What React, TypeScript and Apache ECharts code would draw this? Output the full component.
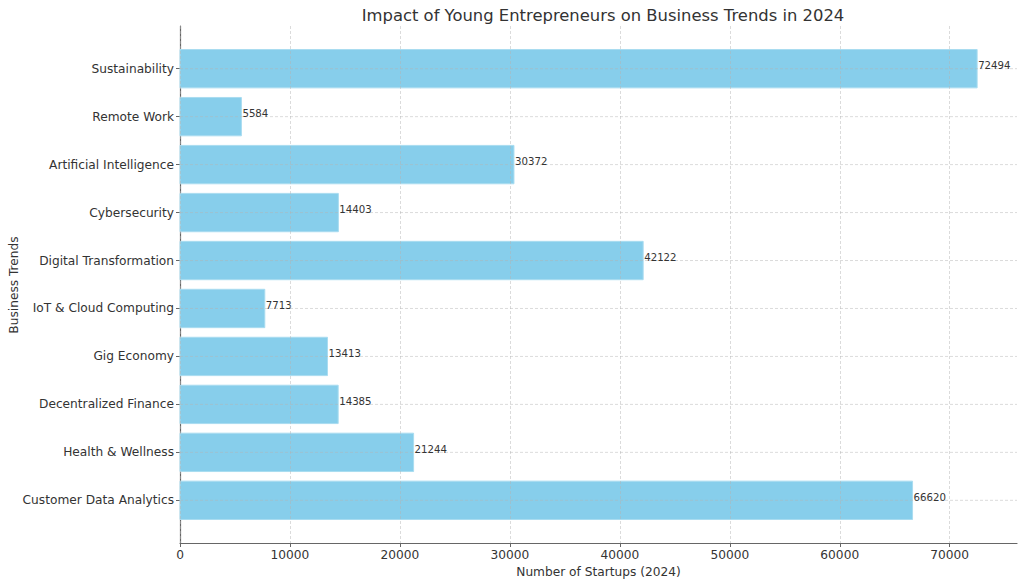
import React, { useEffect, useRef } from "react";
import * as echarts from "echarts";

// bottom to top
const categories = [
  "Customer Data Analytics",
  "Health & Wellness",
  "Decentralized Finance",
  "Gig Economy",
  "IoT & Cloud Computing",
  "Digital Transformation",
  "Cybersecurity",
  "Artificial Intelligence",
  "Remote Work",
  "Sustainability",
];
const startups = [66620, 21244, 14385, 13413, 7713, 42122, 14403, 30372, 5584, 72494];
const xTicks = [0, 10000, 20000, 30000, 40000, 50000, 60000, 70000];

const FONT = "DejaVu Sans";

export default function App() {
  const ref = useRef<HTMLDivElement>(null);
  useEffect(() => {
    if (!ref.current) return;
    const chart = echarts.init(ref.current, undefined, { renderer: "svg" });
    const idxs = categories.map((_, i) => i);
    const data = startups.map((v, i) => [v, i]);
    chart.setOption({
      animation: false,
      backgroundColor: "#ffffff",
      title: {
        text: "Impact of Young Entrepreneurs on Business Trends in 2024",
        left: 598,
        textAlign: "center",
        top: 2,
        textStyle: { fontFamily: FONT, fontSize: 16.4, fontWeight: "normal", color: "#333" },
      },
      graphic: [
        {
          type: "text",
          x: 14,
          y: 285,
          rotation: Math.PI / 2,
          style: {
            text: "Business Trends",
            fontFamily: FONT,
            fontSize: 12.2,
            fill: "#333",
            align: "center",
            verticalAlign: "middle",
          },
        },
      ],
      grid: { left: 180, right: 7, top: 26, bottom: 39, containLabel: false, outerBoundsMode: "none" },
      xAxis: {
        type: "value",
        min: 0,
        max: 76119,
        interval: 10000,
        z: 10,
        name: "Number of Startups (2024)",
        nameLocation: "middle",
        nameGap: 12,
        nameTextStyle: { fontFamily: FONT, fontSize: 12.2, color: "#333" },
        axisLine: { show: true, onZero: false, lineStyle: { color: "#666", width: 1.2 } },
        axisTick: { show: true, length: 4, lineStyle: { color: "#666" }, customValues: xTicks },
        axisLabel: {
          fontFamily: FONT,
          fontSize: 12.2,
          color: "#333",
          margin: 6,
          customValues: xTicks,
          formatter: (v: number) => String(v),
        },
        splitLine: { show: true, lineStyle: { color: "rgba(180,180,180,0.6)", type: [3, 2], width: 0.8 } },
      },
      yAxis: {
        type: "value",
        min: -0.89,
        max: 9.89,
        axisLine: { show: true, onZero: false, lineStyle: { color: "#666", width: 1.2 } },
        axisTick: { show: true, length: 4, lineStyle: { color: "#666" }, customValues: idxs },
        axisLabel: {
          fontFamily: FONT,
          fontSize: 12.2,
          color: "#333",
          margin: 6,
          customValues: idxs,
          formatter: (v: number) => categories[Math.round(v)] ?? "",
        },
        splitLine: { show: false },
      },
      series: [
        {
          type: "custom",
          z: 2,
          encode: { x: 0, y: 1 },
          data,
          renderItem: (params: any, api: any) => {
            const v = api.value(0);
            const idx = api.value(1);
            const start = api.coord([0, idx]);
            const end = api.coord([v, idx]);
            const h = api.size([0, 0.8])[1];
            const cs = params.coordSys;
            return {
              type: "group",
              children: [
                {
                  type: "rect",
                  shape: { x: start[0], y: end[1] - h / 2, width: end[0] - start[0], height: h },
                  style: { fill: "#87CEEB", stroke: "#a9dcf0", lineWidth: 1 },
                },
                {
                  type: "line",
                  shape: { x1: cs.x, y1: end[1], x2: cs.x + cs.width, y2: end[1] },
                  style: { stroke: "rgba(180,180,180,0.6)", lineDash: [3, 2], lineWidth: 0.8 },
                },
                {
                  type: "text",
                  x: end[0] + 1,
                  y: end[1] + 2,
                  style: {
                    text: String(v),
                    fill: "#333",
                    fontSize: 10.2,
                    fontFamily: FONT,
                    align: "left",
                    verticalAlign: "bottom",
                  },
                },
              ],
            };
          },
        },
      ],
    });
    return () => chart.dispose();
  }, []);
  return <div ref={ref} style={{ width: 1024, height: 582, position: "absolute", left: 0, top: 0 }} />;
}
